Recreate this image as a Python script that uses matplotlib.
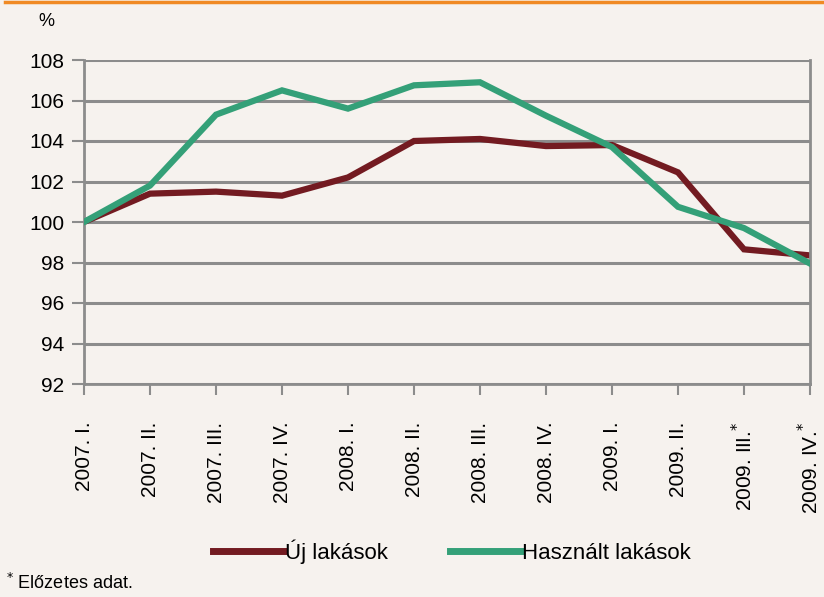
import matplotlib.pyplot as plt
from matplotlib.lines import Line2D

plt.rcParams["font.family"] = ["Liberation Sans", "DejaVu Sans"]

quarters = ["2007. I.", "2007. II.", "2007. III.", "2007. IV.",
            "2008. I.", "2008. II.", "2008. III.", "2008. IV.",
            "2009. I.", "2009. II.", "2009. III.$^{*}$", "2009. IV.$^{*}$"]
uj = [100.0, 101.4, 101.5, 101.3, 102.2, 104.0, 104.1, 103.75, 103.8, 102.45, 98.65, 98.35]
hasznalt = [100.0, 101.8, 105.3, 106.5, 105.6, 106.75, 106.9, 105.25, 103.7, 100.75, 99.7, 97.95]

RED = "#731b21"
GREEN = "#34a078"
BG = "#f6f2ee"
GRID = "#8c8c8c"

fig = plt.figure(figsize=(8.24, 5.97), dpi=100, facecolor=BG)
ax = fig.add_axes([84 / 824, 1 - 384 / 597, (810 - 84) / 824, (384 - 60) / 597])
ax.set_facecolor(BG)

x = list(range(len(quarters)))
ax.plot(x, hasznalt, color=GREEN, lw=4.5, solid_joinstyle="miter", zorder=3)
ax.plot(x, uj, color=RED, lw=4.5, solid_joinstyle="miter", zorder=2)

ax.set_xlim(0, len(quarters) - 1)
ax.set_ylim(92, 108)
ax.set_yticks(range(92, 109, 2))
ax.tick_params(axis="y", labelsize=15, length=9, width=1.5, color=GRID, pad=5)
ax.set_xticks(x)
ax.set_xticklabels(quarters, rotation=90, fontsize=15)
ax.tick_params(axis="x", length=8, width=1.5, color=GRID, pad=19)
ax.grid(axis="y", color=GRID, lw=2.2)
ax.set_axisbelow(True)
for side in ["left", "right", "bottom"]:
    ax.spines[side].set_color(GRID)
    ax.spines[side].set_linewidth(2)
ax.spines["top"].set_visible(False)

fig.text(46 / 824, 1 - 22 / 597, "%", fontsize=13, ha="center", va="center")

handles = [Line2D([], [], color=RED, lw=5), Line2D([], [], color=GREEN, lw=5)]
fig.legend(handles, ["Új lakások", "Használt lakások"], loc="center",
           bbox_to_anchor=(452 / 824, 1 - 552 / 597), ncol=2, frameon=False,
           fontsize=16, handlelength=3.2, handletextpad=0.05, columnspacing=2.8)

fig.text(6 / 824, 1 - 583 / 597, "$^{*}$ Előzetes adat.", fontsize=13,
         ha="left", va="center")

fig.add_artist(Line2D([5 / 824, 1], [1 - 1.5 / 597, 1 - 1.5 / 597],
                      color="#f08a24", lw=2.5, transform=fig.transFigure))

fig.savefig("out.png", dpi=100, facecolor=BG)
